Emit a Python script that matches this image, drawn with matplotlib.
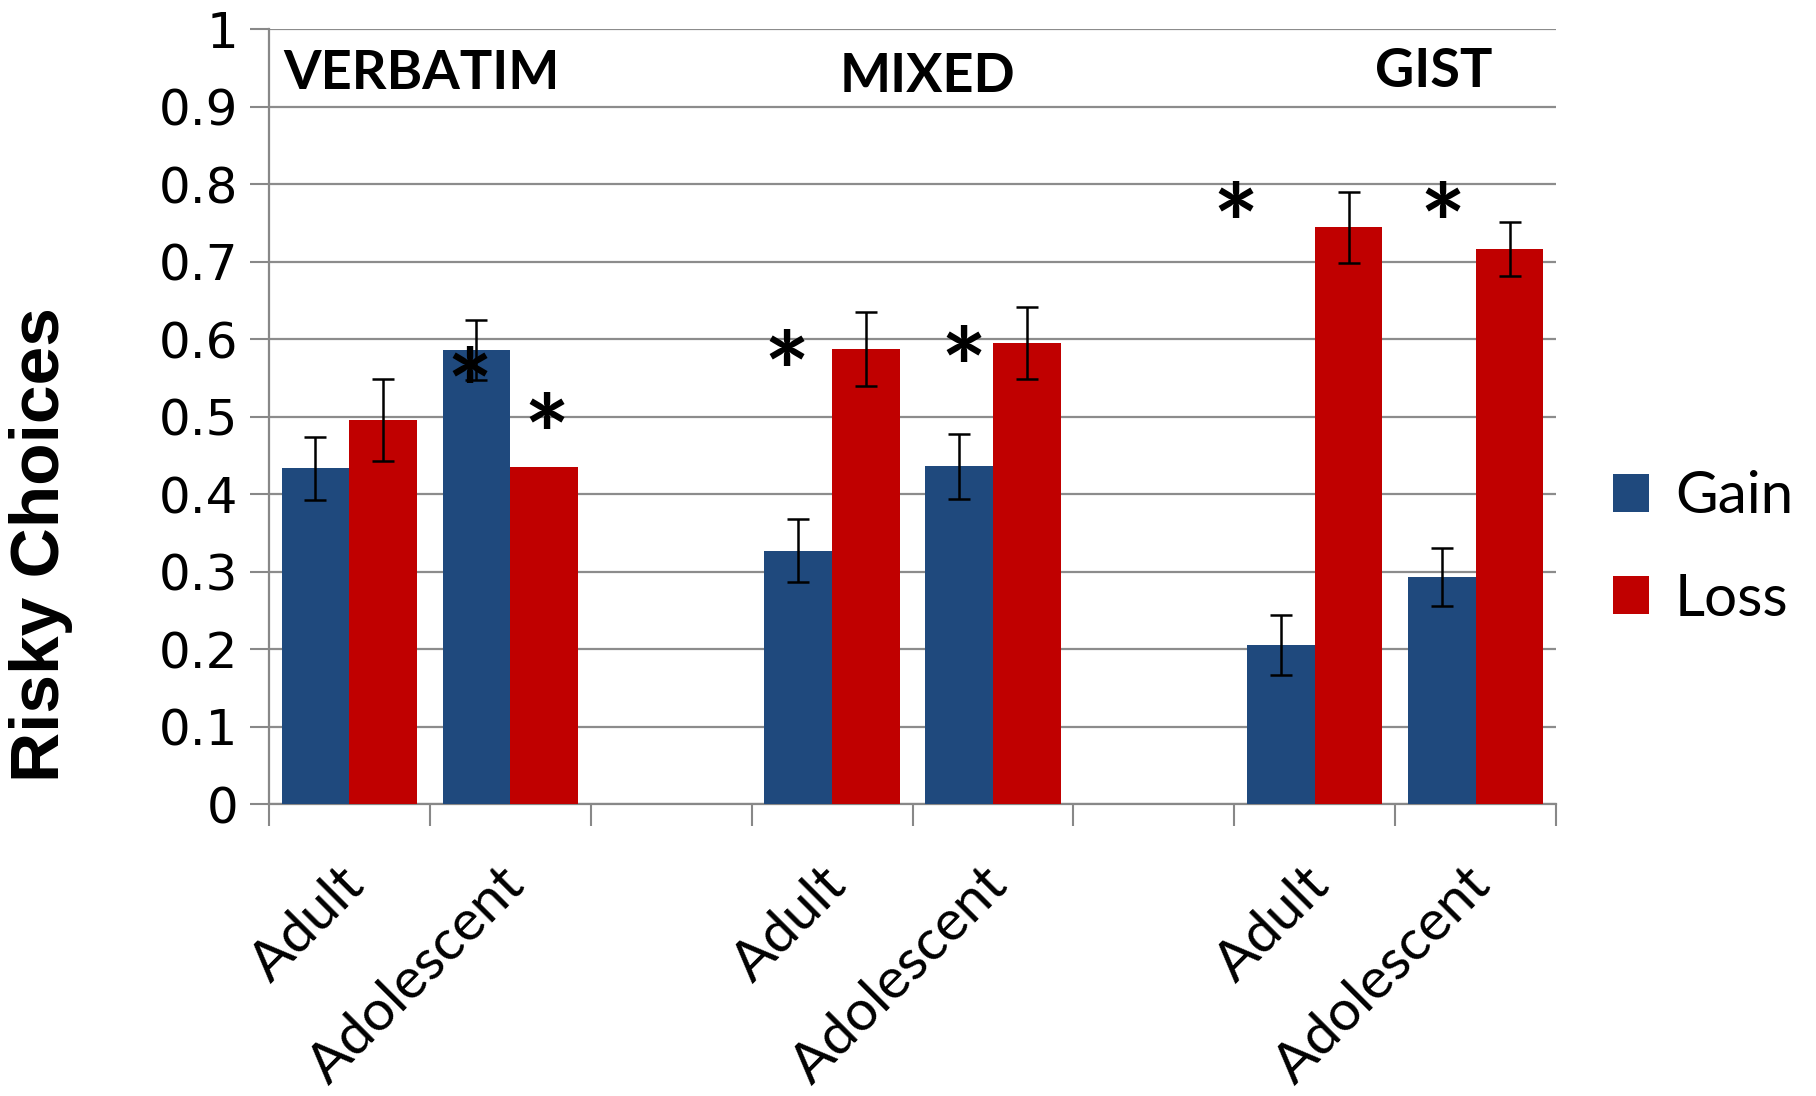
import matplotlib
matplotlib.use("Agg")
import matplotlib.pyplot as plt
import numpy as np

# categories along x (blank slots separate the three conditions)
categories = ["Adult", "Adolescent", "", "Adult", "Adolescent", "", "Adult", "Adolescent"]
gain = [0.433, 0.586, np.nan, 0.327, 0.436, np.nan, 0.205, 0.293]
gain_err = [0.041, 0.039, np.nan, 0.041, 0.042, np.nan, 0.039, 0.038]
loss = [0.496, 0.435, np.nan, 0.587, 0.595, np.nan, 0.744, 0.716]
loss_err = [0.053, np.nan, np.nan, 0.048, 0.046, np.nan, 0.046, 0.035]

conditions = ["VERBATIM", "MIXED", "GIST"]
condition_x = [0.45, 3.59, 6.74]
condition_y = [0.943, 0.939, 0.945]

# significance stars (x in category units, y in data units)
star_x = [0.745, 1.227, 2.716, 3.817, 5.507, 6.795]
star_y = [0.567, 0.507, 0.589, 0.593, 0.779, 0.779]

BLUE = "#1F497D"
RED = "#C00000"
TEXT_FONT = ["Lato", "DejaVu Sans"]

fig = plt.figure(figsize=(18.16, 10.96), dpi=100)
ax = fig.add_axes([0.148, 0.2664, 0.709, 0.7071])

x = np.arange(len(categories))
w = 0.42
ax.bar(x - w / 2, gain, w, color=BLUE, label="Gain", zorder=3)
ax.bar(x + w / 2, loss, w, color=RED, label="Loss", zorder=3)
ekw = dict(fmt="none", ecolor="black", elinewidth=1.8, capsize=8, capthick=1.8, zorder=4)
ax.errorbar(x - w / 2, gain, yerr=gain_err, **ekw)
ax.errorbar(x + w / 2, loss, yerr=loss_err, **ekw)

for sx, sy in zip(star_x, star_y):
    ax.annotate("*", (sx, sy), xytext=(0, -23), textcoords="offset points",
                fontsize=78, fontweight="bold", ha="center", va="center",
                family=TEXT_FONT, zorder=5)

for name, cx, cy in zip(conditions, condition_x, condition_y):
    ax.text(cx, cy, name, fontsize=39, fontweight="bold", ha="center", va="center",
            family=TEXT_FONT)

ax.set_xlim(-0.5, len(categories) - 0.5)
ax.set_ylim(0, 1)
ax.set_yticks(np.arange(0, 1.01, 0.1))
ax.set_yticklabels(["0"] + ["%.1f" % v for v in np.arange(0.1, 0.95, 0.1)] + ["1"])
ax.tick_params(axis="y", labelsize=36, length=14, width=1.5, color="#888888", pad=8)
ax.grid(axis="y", color="#8c8c8c", linewidth=1.6, zorder=0)
ax.set_axisbelow(True)

# boundary ticks between categories, labels at category centres
ax.set_xticks(np.arange(-0.5, len(categories), 1.0))
ax.set_xticklabels([])
ax.tick_params(axis="x", length=16, width=1.5, color="#888888")
for xi, lab in zip(x, categories):
    if lab:
        ax.text(xi - 0.07, -0.07, lab, rotation=45, rotation_mode="anchor",
                ha="right", va="top", fontsize=41, family=TEXT_FONT,
                transform=ax.transData, clip_on=False)

for side in ["top", "right"]:
    ax.spines[side].set_visible(False)
for side in ["left", "bottom"]:
    ax.spines[side].set_color("#888888")
    ax.spines[side].set_linewidth(1.6)

ax.set_ylabel("Risky Choices", fontsize=50, fontweight="bold",
              family=["Liberation Sans", "DejaVu Sans"])
ax.yaxis.set_label_coords(-0.152, 0.335)

fig.legend(loc="center left", bbox_to_anchor=(0.888, 0.5), frameon=False,
           borderpad=0, borderaxespad=0, handlelength=0.62, handleheight=0.62,
           handletextpad=0.45, labelspacing=0.85,
           prop={"family": TEXT_FONT, "size": 42})

fig.savefig("out.png", dpi=100)
